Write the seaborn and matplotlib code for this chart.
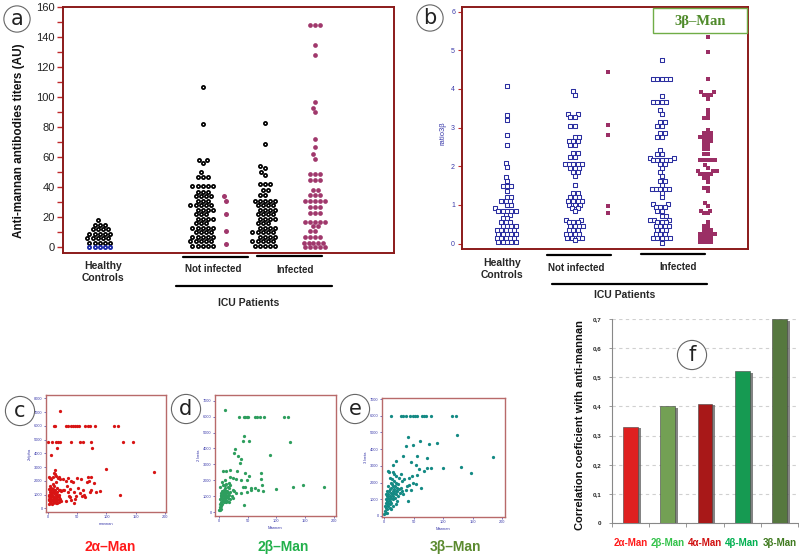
import numpy as np
import pandas as pd
import matplotlib
matplotlib.use("Agg")
import matplotlib.pyplot as plt
import seaborn as sns
from matplotlib.lines import Line2D
from matplotlib.patches import Rectangle
import matplotlib.patheffects as pe
import warnings
warnings.filterwarnings("ignore")

# ---------------- data: panel a (anti-mannan titers, AU) ----------------
a_hc = [18, 15, 15, 15, 12, 12, 12, 12, 9, 9, 9, 9, 9, 6, 6, 6, 6, 6, 3, 3, 3, 3, 3]
a_hc_zero = [0, 0, 0, 0, 0]
a_ni_black = [107, 82, 58, 58, 56, 50, 47, 47, 47, 41, 41, 41, 41, 41, 37, 37, 37,
              34, 34, 34, 34, 31, 31, 31, 28, 28, 28, 28, 28, 25, 25, 25, 25, 22, 22, 22,
              19, 19, 19, 19, 16, 16, 16, 13, 13, 13, 13, 13, 10, 10, 10, 10, 7, 7, 7, 7,
              7, 4, 4, 4, 4, 4, 1, 1, 1, 1, 1]
a_ni_mag = [34, 31, 22, 11, 2]
a_i_black = [83, 69, 54, 53, 50, 48, 42, 42, 42, 38, 38, 35, 35, 31, 31, 31, 31, 31,
             28, 28, 28, 28, 25, 25, 25, 25, 22, 22, 22, 22, 19, 19, 19, 19, 16, 16, 16,
             13, 13, 13, 13, 10, 10, 10, 10, 10, 7, 7, 7, 7, 4, 4, 4, 4, 4, 1, 1, 1, 1, 1]
a_i_mag = [148, 148, 148, 135, 128, 97, 93, 90, 72, 67, 62, 59, 49, 49, 49, 45, 45, 45,
           38, 38, 35, 35, 35, 31, 31, 31, 31, 31, 27, 27, 27, 23, 23, 23, 17, 17, 17, 17,
           17, 14, 14, 11, 11, 7, 7, 7, 7, 3, 3, 3, 3, 3, 0, 0, 0, 0, 0]

# ---------------- data: panel b (ratio 3beta) ----------------
b_hc = [4.07, 3.33, 3.2, 2.8, 2.55, 2.08, 1.98, 1.72, 1.62, 1.48, 1.48, 1.48, 1.36,
        1.2, 1.2, 1.1, 1.1, 1.1, 1.0, 1.0, 0.92, 0.85, 0.85, 0.85, 0.85, 0.85, 0.75,
        0.75, 0.65, 0.65, 0.55, 0.55, 0.55, 0.45, 0.45, 0.45, 0.45, 0.35, 0.35, 0.35,
        0.35, 0.35, 0.25, 0.25, 0.25, 0.25, 0.25, 0.15, 0.15, 0.15, 0.15, 0.15, 0.05,
        0.05, 0.05, 0.05, 0.05]
b_ni_blue = [3.95, 3.85, 3.35, 3.35, 3.27, 3.27, 3.05, 3.05, 2.75, 2.75, 2.65, 2.65, 2.65,
             2.55, 2.55, 2.35, 2.35, 2.25, 2.25, 2.05, 2.05, 2.05, 2.05, 2.05, 1.95, 1.95,
             1.95, 1.85, 1.85, 1.75, 1.52, 1.3, 1.3, 1.2, 1.2, 1.2, 1.1, 1.1, 1.1, 1.1,
             1.0, 1.0, 1.0, 0.92, 0.92, 0.84, 0.62, 0.62, 0.55, 0.55, 0.55, 0.45, 0.45,
             0.45, 0.45, 0.35, 0.35, 0.35, 0.25, 0.25, 0.25, 0.25, 0.15, 0.15, 0.15, 0.15,
             0.08]
b_ni_mag = [4.43, 3.07, 2.82, 0.98, 0.8]
b_i_blue = [4.75, 4.25, 4.25, 4.25, 4.25, 4.25, 3.83, 3.65, 3.65, 3.65, 3.65, 3.45, 3.35,
            3.15, 3.15, 3.05, 3.05, 2.85, 2.85, 2.75, 2.75, 2.42, 2.32, 2.32, 2.22, 2.22,
            2.15, 2.15, 2.15, 2.15, 2.15, 2.05, 2.05, 1.95, 1.85, 1.75, 1.62, 1.62, 1.52,
            1.42, 1.42, 1.42, 1.42, 1.42, 1.32, 1.2, 1.02, 1.02, 0.95, 0.95, 0.95, 0.85,
            0.85, 0.72, 0.72, 0.62, 0.62, 0.62, 0.55, 0.55, 0.55, 0.45, 0.45, 0.45, 0.45,
            0.35, 0.35, 0.35, 0.25, 0.25, 0.25, 0.15, 0.15, 0.15, 0.15, 0.15, 0.02]
b_i_mag = [5.35, 4.95, 4.25, 3.92, 3.92, 3.85, 3.85, 3.85, 3.75, 3.45, 3.35, 3.25,
           3.25, 2.95, 2.85, 2.85, 2.85, 2.75, 2.75, 2.75, 2.75, 2.65, 2.65, 2.65, 2.55,
           2.55, 2.45, 2.45, 2.32, 2.32, 2.15, 2.15, 2.15, 2.15, 2.15, 2.02, 1.95, 1.88,
           1.88, 1.88, 1.8, 1.8, 1.8, 1.8, 1.7, 1.7, 1.6, 1.45, 1.45, 1.35, 1.05, 0.98,
           0.85, 0.85, 0.78, 0.78, 0.55, 0.45, 0.45, 0.35, 0.35, 0.35, 0.25, 0.25, 0.25,
           0.25, 0.25, 0.15, 0.15, 0.15, 0.15, 0.05, 0.05, 0.05, 0.05]

# ---------------- data: panels c, d, e (scatter vs mannan) ----------------
c_mannan = [10, 12.6, 30, 34, 40, 43, 46, 50, 53, 63, 69, 71, 80, 113, 120, 21,
            0, 7, 14, 17, 20, 39, 54, 60, 73, 129, 146, 15, 75, 6, 100, 181, 12, 123,
            1, 2, 1, 2, 3, 3, 3, 2, 4, 4, 4, 5, 5, 6, 6, 6, 6, 7, 7, 8, 8, 8, 9, 9, 9,
            10, 10, 11, 11, 11, 12, 12, 13, 13, 13, 14, 14, 15, 15, 16, 16, 17, 17, 18,
            18, 19, 19, 20, 21, 21, 22, 2, 3, 5, 8, 10, 12, 4, 7, 9, 11, 14, 16, 13, 5,
            10, 1, 15, 18, 20,
            23, 25, 25, 28, 30, 30, 32, 34, 35, 36, 38, 38, 40, 40, 42, 44, 45, 46, 48,
            50, 52, 54, 56, 58, 60, 62, 64, 66, 69, 70, 72, 74, 74, 78, 82, 89]
c_signal = [6000, 6000, 6000, 6000, 6000, 6000, 6000, 6000, 6000, 6000, 6000, 6000,
            6000, 6000, 6000, 7100,
            4800, 4800, 4800, 4800, 4800, 4800, 4800, 4800, 4800, 4800, 4800, 4400, 4400,
            3900, 2850, 2650, 2800, 1000,
            300, 600, 700, 900, 350, 500, 1200, 1400, 800, 1000, 1600, 400, 1100, 700,
            900, 1300, 1500, 300, 1000, 600, 1150, 1800, 350, 900, 1400, 750, 1250, 450,
            1100, 1600, 650, 1300, 800, 1000, 1900, 500, 2350, 950, 1500, 400, 1200, 900,
            2200, 450, 1350, 800, 2300, 1300, 600, 2100, 500, 2300, 2200, 2100, 2250,
            2600, 2500, 1300, 600, 1200, 800, 1100, 700, 400, 800, 500, 1000, 600, 1000,
            700,
            1250, 1300, 2100, 1300, 2000, 500, 1600, 2200, 1200, 900, 800, 1400, 600,
            2000, 1900, 1200, 400, 700, 900, 2200, 1500, 1100, 2100, 900, 1300, 1000,
            800, 1900, 2240, 2000, 1200, 1300, 2300, 1850, 1200, 1280]

d_mannan = [11, 34, 43, 46, 49, 51, 62, 67, 71, 78, 113, 120,
            44, 41, 53, 123, 89, 28, 27, 33, 36, 39,
            7, 13, 19, 32, 46, 53, 73, 74, 75, 48, 38, 30, 24, 20, 10, 5, 1, 7, 13, 17,
            42, 45, 56, 62, 68, 77, 55, 49, 39, 30, 24, 100, 129, 146, 183, 44,
            0, 1, 1, 2, 2, 3, 3, 4, 4, 5, 5, 6, 6, 7, 7, 8, 8, 9, 9, 10, 10, 11, 11, 12,
            12, 13, 14, 14, 15, 16, 17, 18, 19, 20, 2, 3, 4, 6, 8, 10, 12, 15, 22, 24,
            18, 16, 20, 11, 26, 3]
d_signal = [6440, 6000, 6000, 6000, 6000, 6000, 6000, 6000, 6000, 6000, 6000, 6000,
            4800, 4450, 4450, 4400, 3600, 3950, 3700, 3500, 3100, 3350,
            2550, 2600, 2650, 2550, 2480, 2270, 2440, 2060, 1700, 2000, 2000, 2060, 2120,
            2180, 2020, 1900, 1600, 1700, 1770, 1850, 1560, 1600, 1520, 1500, 1400, 1350,
            1400, 1230, 1190, 1190, 1400, 1440, 1600, 1670, 1600, 460,
            100, 200, 500, 800, 300, 1000, 600, 900, 400, 1100, 700, 500, 1000, 800, 1200,
            600, 1000, 900, 1300, 700, 1100, 800, 1200, 950, 600, 1100, 700, 1300, 900,
            1000, 600, 1100, 800, 1250, 100, 200, 1100, 1300, 1400, 1500, 1300, 1200,
            1000, 900, 1500, 1600, 1700, 1700, 1300, 1200]

e_mannan = [11, 28, 31, 36, 44, 48, 52, 55, 64, 67, 71, 79, 115, 121,
            124, 40, 61, 49, 76, 90, 37, 31, 56, 45, 73, 20, 14, 53, 59, 73, 79, 68, 100,
            130, 148, 185, 47, 55, 42, 34, 25, 20, 8, 6, 14, 28, 23, 30, 38, 49, 54, 42,
            36, 45, 62, 41,
            0, 1, 1, 2, 2, 3, 3, 4, 4, 5, 5, 6, 6, 7, 7, 8, 8, 9, 9, 10, 10, 11, 11, 12,
            12, 13, 13, 14, 14, 15, 15, 16, 16, 17, 18, 18, 19, 20, 20, 21, 22, 23, 25,
            26, 28, 30, 32, 9, 11, 13, 17, 5, 3, 6, 15, 10, 4, 12, 19, 22]
e_signal = [6000, 6000, 6000, 6000, 6000, 6000, 6000, 6000, 6000, 6000, 6000, 6000,
            6000, 6000,
            4840, 4720, 4470, 4270, 4330, 4370, 4170, 3600, 3600, 3240, 3480, 3300, 3030,
            3030, 2820, 2890, 2890, 2720, 2860, 2930, 2560, 3550, 2410, 2470, 2270, 2200,
            2270, 2410, 2620, 2720, 2620, 2520, 1900, 2100, 1800, 2000, 1900, 1850, 1530,
            1530, 1690, 870,
            100, 300, 600, 200, 800, 500, 1000, 700, 1200, 400, 900, 1100, 600, 1300, 800,
            1000, 1500, 700, 1200, 1600, 900, 1400, 1100, 1700, 800, 1300, 1900, 1500,
            1000, 1800, 1200, 1600, 2100, 1400, 1800, 1100, 1500, 2000, 1300, 1700, 1500,
            1200, 1600, 1400, 1700, 1500, 1300, 2300, 2000, 2200, 2500, 1500, 1300, 1800,
            600, 500, 200, 400, 700, 900]

# ---------------- data: panel f (correlation with anti-mannan) ----------------
f_labels = ["2α-Man", "2β-Man", "4α-Man", "4β-Man", "3β-Man"]
f_values = [0.33, 0.40, 0.41, 0.52, 0.70]
f_colors = ["#ff0000", "#70ad47", "#c00000", "#00b050", "#548235"]
f_label_colors = ["#ff1a1a", "#33c24a", "#d01010", "#00b050", "#3f7a1f"]

# ---------------- figure ----------------
sns.set_theme(style="white")
plt.rcParams['font.family'] = ['Liberation Sans', 'DejaVu Sans']

W, H = 799, 555
fig = plt.figure(figsize=(W / 100, H / 100), dpi=100)


def rect(x0, y0, x1, y1):
    return [x0 / W, 1 - y1 / H, (x1 - x0) / W, (y1 - y0) / H]


def fp(x, y):
    return x / W, 1 - y / H


def ftext(x, y, s, **kw):
    fx, fy = fp(x, y)
    fig.text(fx, fy, s, ha="center", va="center", **kw)


def fline(x0, x1, y, lw=1.6):
    fig.add_artist(Line2D([x0 / W, x1 / W], [1 - y / H, 1 - y / H],
                          transform=fig.transFigure, color="black", lw=lw))


def circ_label(x, y, s, pad=0.15, size=15):
    fx, fy = fp(x, y)
    fig.text(fx, fy, s, ha="center", va="center", fontsize=size, color="#222222",
             family="DejaVu Sans",
             bbox=dict(boxstyle=f"circle,pad={pad}", fc="white", ec="#666666", lw=0.8))


def swarm(ax, vals, pos, **kw):
    df = pd.DataFrame({"pos": np.full(len(vals), float(pos)), "v": vals})
    sns.swarmplot(data=df, x="pos", y="v", native_scale=True, orient="x", ax=ax,
                  legend=False, **kw)


frame_red = "#8b1a1a"
mag = "#a0386c"
blue = "#2b2fa0"

# ---- panel a ----
axa = fig.add_axes(rect(63, 7, 394, 253))
open_kw = dict(color="white", edgecolor="black", linewidth=1.25, size=2.3)
swarm(axa, a_hc, 0.89, **open_kw)
swarm(axa, a_hc_zero, 0.89, color="white", edgecolor="#1a2aa8", linewidth=1.3, size=2.3)
swarm(axa, a_ni_black, 3.38, **open_kw)
swarm(axa, a_ni_mag, 3.94, color=mag, size=3.6)
swarm(axa, a_i_black, 4.88, **open_kw)
swarm(axa, a_i_mag, 6.09, color=mag, size=3.4)
axa.set_xlim(0, 8)
axa.set_ylim(-4, 160)
axa.set_yticks(np.arange(0, 161, 20))
axa.set_yticks(np.arange(10, 160, 20), minor=True)
axa.set_xticks([])
axa.set_xlabel("")
axa.set_ylabel("")
axa.tick_params(axis="y", which="both", left=True, direction="out", length=4, width=1,
                color="#c0282a", labelsize=8, pad=2, labelcolor="#222222")
for sp in axa.spines.values():
    sp.set_color(frame_red)
    sp.set_linewidth(1.4)
fig.text(*fp(19, 141), "Anti-mannan antibodies titers (AU)", rotation=90, ha="center",
         va="center", fontsize=8.5, fontweight="bold", color="#111111")

ftext(103, 272, "Healthy\nControls", fontsize=7.5, fontweight="bold", linespacing=1.3)
ftext(213, 269, "Not infected", fontsize=7, fontweight="bold")
ftext(295, 270, "Infected", fontsize=7, fontweight="bold")
ftext(249, 303, "ICU Patients", fontsize=7.5, fontweight="bold")
fline(183, 248, 257)
fline(257, 322, 256)
fline(176, 332, 286)
circ_label(17, 19, "a")

# ---- panel b ----
axb = fig.add_axes(rect(462, 7, 748, 249))
sq_kw = dict(color="white", edgecolor=blue, linewidth=0.75, size=2.2, marker="s")
swarm(axb, b_hc, 1.1, **sq_kw)
swarm(axb, b_ni_blue, 2.76, **sq_kw)
swarm(axb, b_ni_mag, 3.57, color="#9b2f65", size=2.8, marker="s")
swarm(axb, b_i_blue, 4.89, **sq_kw)
swarm(axb, b_i_mag, 6.01, color="#9b2f65", size=2.6, marker="s")
axb.set_xlim(0, 7)
axb.set_ylim(-0.14, 6.12)
axb.set_yticks(range(0, 7))
axb.set_xticks([])
axb.set_xlabel("")
axb.set_ylabel("")
axb.tick_params(axis="y", left=True, direction="out", length=3, width=0.8,
                color="#c0282a", labelsize=5, pad=2, labelcolor="#3a3aaa")
for sp in axb.spines.values():
    sp.set_color(frame_red)
    sp.set_linewidth(1.4)
fig.text(*fp(443, 133), "ratio3β", rotation=90, ha="center", va="center", fontsize=5.5,
         color="#3a3aaa")
fig.add_artist(Rectangle(fp(653, 33), 94 / W, 25 / H, transform=fig.transFigure,
                         fc="white", ec="#70ad47", lw=1))
ftext(700, 21, "3β–Man", fontsize=10.5, fontweight="bold", color="#4f8a2a",
      family="Liberation Serif")

ftext(502, 269, "Healthy\nControls", fontsize=7.5, fontweight="bold", linespacing=1.3)
ftext(576, 268, "Not infected", fontsize=7, fontweight="bold")
ftext(678, 267, "Infected", fontsize=7, fontweight="bold")
ftext(625, 295, "ICU Patients", fontsize=7.5, fontweight="bold")
fline(547, 611, 255)
fline(641, 705, 254)
fline(552, 707, 284)
circ_label(430, 18, "b")

# ---- panels c, d, e ----
scatter_specs = [
    (rect(46, 395, 166, 512), c_mannan, c_signal, "#d81414", (-3.4, 201.7), (-270, 8240),
     np.arange(0, 8001, 1000), "mannan", "2alpha", (20, 411), "c",
     (110, 547), "2α–Man", "#ff1a1a"),
    (rect(215, 395, 336, 516), d_mannan, d_signal, "#2e9e5e", (-7, 204), (-250, 7360),
     np.arange(0, 7001, 1000), "Mannan", "2 beta", (186, 409), "d",
     (283, 547), "2β–Man", "#22b04b"),
    (rect(382, 398, 505, 517), e_mannan, e_signal, "#148a84", (-4, 205), (-60, 7060),
     np.arange(0, 7001, 1000), "Mannan", "3 beta", (355, 409), "e",
     (455, 547), "3β–Man", "#5b8a2f"),
]
for (r, xs, ys, col, xl, yl, yt, xlab, ylab, cpos, cl, tpos, title, tcol) in scatter_specs:
    ax = fig.add_axes(r)
    sns.scatterplot(x=xs, y=ys, color=col, s=5.5, linewidth=0, ax=ax)
    ax.set_xlim(*xl)
    ax.set_ylim(*yl)
    ax.set_xticks([0, 50, 100, 150, 200])
    ax.set_yticks(yt)
    ax.tick_params(labelsize=2.8, labelcolor="#3a3aaa", pad=1, length=1.5, width=0.5,
                   left=True, bottom=True, color="#3a3aaa")
    ax.set_xlabel(xlab, fontsize=3, color="#3a3aaa", labelpad=1.5)
    ax.set_ylabel(ylab, fontsize=3, color="#3a3aaa", labelpad=1.5)
    for sp in ax.spines.values():
        sp.set_color("#b86a6a")
        sp.set_linewidth(1.0)
    circ_label(cpos[0], cpos[1], cl, pad=0.22)
    ftext(tpos[0], tpos[1], title, fontsize=10, fontweight="bold", color=tcol)

# ---- panel f ----
axf = fig.add_axes(rect(612, 319, 798, 523))
sns.barplot(x=f_labels, y=f_values, hue=f_labels, palette=f_colors, legend=False,
            width=0.4, ax=axf, edgecolor="#444444", linewidth=0.4, zorder=3)
for p in axf.patches:
    p.set_path_effects([pe.SimplePatchShadow(offset=(2.2, -1.2), shadow_rgbFace="#666666",
                                             alpha=0.8), pe.Normal()])
axf.set_ylim(0, 0.7)
axf.set_xlim(-0.5, 4.5)
yt = np.round(np.arange(0, 0.71, 0.1), 1)
axf.set_yticks(yt)
axf.set_yticklabels(["0"] + [f"{v:.1f}".replace(".", ",") for v in yt[1:]])
axf.yaxis.grid(True, linestyle=(0, (3, 3)), color="#d0d0d0", lw=0.8)
axf.set_axisbelow(True)
axf.set_xticks(np.arange(-0.5, 5, 1), minor=True)
axf.tick_params(axis="x", which="major", length=0, labelsize=7, pad=11)
axf.tick_params(axis="x", which="minor", bottom=True, length=3, width=0.6, color="#888888")
axf.tick_params(axis="y", left=True, length=2.5, width=0.6, color="#888888", labelsize=4.5,
                pad=5)
for lab in axf.get_yticklabels():
    lab.set_fontweight("bold")
for lab, c in zip(axf.get_xticklabels(), f_label_colors):
    lab.set_color(c)
    lab.set_fontweight("bold")
for s in ["top", "right"]:
    axf.spines[s].set_visible(False)
for s in ["left", "bottom"]:
    axf.spines[s].set_color("#888888")
    axf.spines[s].set_linewidth(0.8)
axf.set_xlabel("")
axf.set_ylabel("")
fig.text(*fp(580, 425), "Correlation coeficient with anti-mannan", rotation=90,
         ha="center", va="center", fontsize=8, fontweight="bold", color="#111111")
circ_label(692, 355, "f", pad=0.22)

fig.savefig("out.png", dpi=100)
